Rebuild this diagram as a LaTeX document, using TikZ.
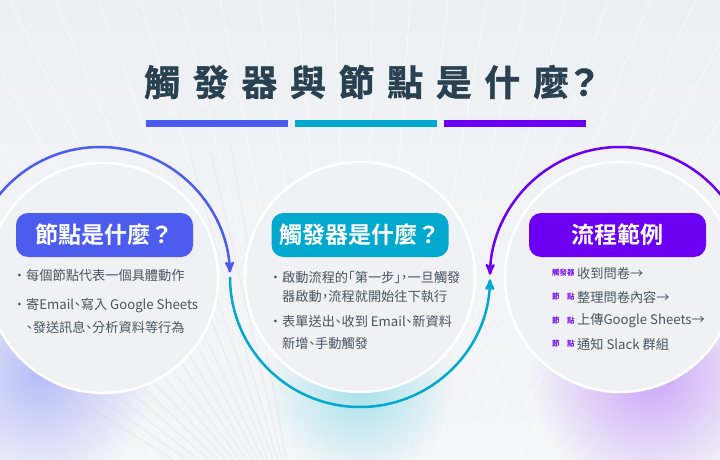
\documentclass[tikz,border=0pt]{standalone}
\usepackage{fontspec}
\setmainfont{Noto Sans CJK TC}[BoldFont={Noto Sans CJK TC Bold}]
\newfontfamily\bodyfont{Noto Sans CJK TC}[RawFeature={+halt}]
\newfontfamily\titlefont{Noto Sans CJK TC Bold}[LetterSpace=35,FakeBold=1.2]
\usepackage{tikz}
\usetikzlibrary{positioning,arrows,calc,fadings}
\definecolor{inkdark}{HTML}{2A4152}
\definecolor{inkgray}{HTML}{4A5561}
\definecolor{nodeblue}{HTML}{4B5CEE}
\definecolor{trigteal}{HTML}{00A9CD}
\definecolor{flowviolet}{HTML}{6B00F2}
\definecolor{discfill}{HTML}{EFF1F4}
\definecolor{bgtop}{HTML}{EDF0F3}
\definecolor{bgbot}{HTML}{F5F6F8}
\tikzfading[name=glowfade, inner color=transparent!0, outer color=transparent!100]
\newcommand{\bul}{\makebox[10pt][l]{·}}
\tikzset{
  disc/.style={circle,draw=white,line width=2.5pt,fill=discfill,minimum size=230pt,inner sep=0pt},
  ring/.style={circle,draw=none,minimum size=260pt,inner sep=0pt,outer sep=0pt},
  pill/.style={rounded corners=12pt,minimum width=177pt,minimum height=44pt,inner sep=0pt,
    text=white,font=\bfseries\fontsize{23}{23}\selectfont},
  loop arc/.style={->,>=stealth',line width=2.5pt},
  body/.style={anchor=west,inner sep=0pt,text=inkgray,font=\bodyfont\fontsize{13.2}{16}\selectfont},
  roletag/.style={anchor=west,inner sep=0pt,text=flowviolet,font=\bfseries\fontsize{7.5}{8}\selectfont},
  bar/.style={minimum width=142pt,minimum height=7pt,inner sep=0pt,outer sep=0pt},
  streak/.style={white,opacity=0.55,line width=0.7pt}}

\begin{document}
\begin{tikzpicture}[x=1pt,y=1pt]
  \useasboundingbox (0,0) rectangle (720,459);
  \clip (0,0) rectangle (720,459);
  % background
  \shade[top color=bgtop,bottom color=bgbot] (0,0) rectangle (720,459);
  \foreach \a in {20,23,...,160}
    \draw[streak] (360,-260) -- ++(\a:1100);
  \foreach \a in {100,103,...,150}
    \draw[gray!20,opacity=0.5,line width=1.2pt] (300,-80) -- ++(\a:400);
  \fill[nodeblue!40,path fading=glowfade] (40,85) circle (115);
  \fill[flowviolet!35,path fading=glowfade] (650,85) circle (120);
  \fill[trigteal!35,path fading=glowfade] (360,75) circle (95);

  % title
  \node[anchor=west,inner sep=0pt,text=inkdark,
    font=\titlefont\fontsize{36}{36}\selectfont] (title) at (144,377) {觸發器與節點是什麼\hspace{-3pt}？};
  \node[bar,fill=nodeblue] (bar1) at (217,335.5) {};
  \node[bar,fill=trigteal,right=7pt of bar1] (bar2) {};
  \node[bar,fill=flowviolet,right=7pt of bar2] (bar3) {};

  % discs and rings
  \node[disc] (ndisc) at (103,181) {};
  \node[disc] (tdisc) at (360,182) {};
  \node[disc] (fdisc) at (620,182) {};
  \node[ring] (nring) at (100,182) {};
  \node[ring] (tring) at (360,182) {};
  \node[ring] (fring) at (620,182) {};
  \draw[loop arc,nodeblue] (nring.141) arc[start angle=141,end angle=2,radius=130];
  \draw[loop arc,trigteal] (tring.180) arc[start angle=180,end angle=359,radius=130];
  \draw[loop arc,flowviolet] (fring.39) arc[start angle=39,end angle=179,radius=130];

  % pills
  \node[pill,fill=nodeblue] (npill) at (104.5,224) {節點是什麼？};
  \node[pill,fill=trigteal] (tpill) at (360,224) {觸發器是什麼？};
  \node[pill,fill=flowviolet] (fpill) at (617.5,224) {流程範例};

  % node text
  \node[body] (n1) at (16,184) {\bul 每個節點代表一個具體動作};
  \node[body] (n2) at (16,153) {\bul 寄Email、寫入 Google Sheets};
  \node[body] (n3) at (26,132) {、發送訊息、分析資料等行為};

  % trigger text
  \node[body] (t1) at (272,182) {\bul 啟動流程的「第一步」，一旦觸發};
  \node[body] (t2) at (282,163) {器啟動，流程就開始往下執行};
  \node[body] (t3) at (272,138) {\bul 表單送出、收到 Email、新資料};
  \node[body] (t4) at (282,116) {新增、手動觸發};

  % flow example
  \node[roletag] (r1) at (552,186) {觸發器};
  \node[roletag] (r2) at (552,162) {\makebox[22.5pt][l]{節\hfill 點}};
  \node[roletag] (r3) at (552,138) {\makebox[22.5pt][l]{節\hfill 點}};
  \node[roletag] (r4) at (552,115) {\makebox[22.5pt][l]{節\hfill 點}};
  \node[body] (f1) at (577,186) {收到問卷→};
  \node[body] (f2) at (577,162) {整理問卷內容→};
  \node[body] (f3) at (577,138) {上傳Google Sheets→};
  \node[body] (f4) at (577,115) {通知 Slack 群組};
\end{tikzpicture}
\end{document}
